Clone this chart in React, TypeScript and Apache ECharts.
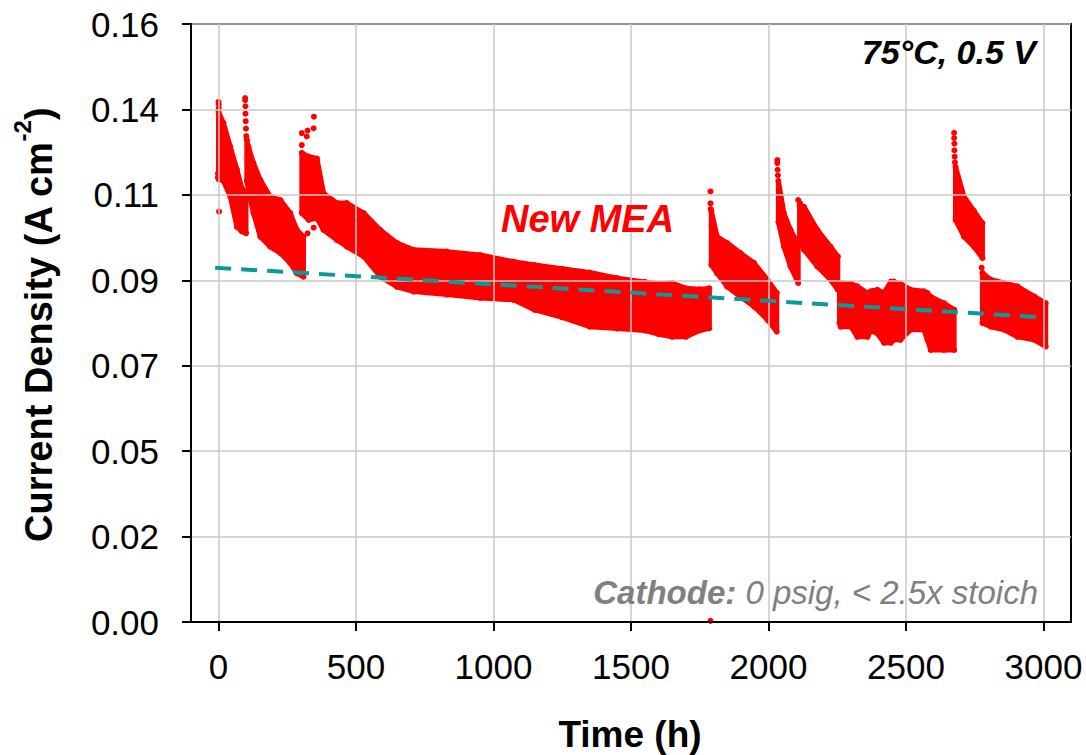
import { useEffect, useRef } from "react";
import * as echarts from "echarts";

const FONT = '"Liberation Sans", Arial, sans-serif';
const RED = "#ff0000";
const TEAL = "#0a9a9a";

// Axis ticks
const xTicks = [0, 500, 1000, 1500, 2000, 2500, 3000];
const yMax = 0.16;
const ySteps = 7;

// Dense data, read as [time (h), upper edge, lower edge] for each continuous run
const run1 = [
  [0, 0.1365, 0.1185], [18, 0.1335, 0.118], [43, 0.1271, 0.1138], [67, 0.121, 0.1057],
  [85, 0.116, 0.1045], [100, 0.115, 0.104],
];
const run2 = [
  [103, 0.129, 0.118], [109, 0.1271, 0.1156], [127, 0.1228, 0.1094], [152, 0.1183, 0.1031],
  [188, 0.1138, 0.1004], [225, 0.1129, 0.0987], [261, 0.1094, 0.096], [285, 0.1049, 0.0933],
  [309, 0.1031, 0.0924],
];
const run3 = [
  [303, 0.1255, 0.1094], [328, 0.1245, 0.1076], [358, 0.124, 0.108], [382, 0.1147, 0.1049],
  [431, 0.1121, 0.1022], [467, 0.1121, 0.1004], [528, 0.1094, 0.0978], [588, 0.1049, 0.0924],
  [649, 0.1014, 0.0897], [710, 0.0996, 0.0884], [831, 0.0991, 0.0876], [952, 0.0982, 0.0867],
  [1073, 0.0964, 0.0862], [1150, 0.0955, 0.0835], [1250, 0.0945, 0.0815], [1350, 0.0935, 0.079],
  [1450, 0.092, 0.0785], [1550, 0.091, 0.078], [1600, 0.0905, 0.077], [1650, 0.0907, 0.0763],
  [1700, 0.0893, 0.0763], [1750, 0.089, 0.078], [1785, 0.0893, 0.0786],
];
const run4 = [
  [1792, 0.11, 0.0955], [1813, 0.1031, 0.0933], [1850, 0.1014, 0.0897], [1898, 0.0987, 0.087],
  [1947, 0.0961, 0.0844], [1996, 0.0916, 0.0809], [2030, 0.0881, 0.0777],
];
const run5 = [
  [2036, 0.118, 0.107], [2056, 0.1094, 0.1004], [2080, 0.1049, 0.0951], [2108, 0.101, 0.0907],
];
const run6 = [
  [2113, 0.1115, 0.102], [2129, 0.1111, 0.0996], [2178, 0.1049, 0.0951], [2226, 0.1004, 0.0915],
  [2252, 0.0978, 0.0889],
];
const run7 = [
  [2258, 0.09, 0.08], [2262, 0.0907, 0.079], [2300, 0.0905, 0.079], [2323, 0.0898, 0.0763],
  [2360, 0.088, 0.0763], [2372, 0.0885, 0.078], [2396, 0.0889, 0.0772], [2420, 0.088, 0.0747],
  [2445, 0.0911, 0.0747], [2456, 0.0911, 0.0755], [2480, 0.0905, 0.0755], [2517, 0.0889, 0.0782],
  [2565, 0.0885, 0.0782], [2578, 0.088, 0.0755], [2590, 0.087, 0.0728], [2638, 0.0853, 0.0728],
  [2675, 0.0836, 0.0728],
];
const run8 = [
  [2680, 0.1218, 0.1076], [2711, 0.1138, 0.1031], [2747, 0.11, 0.1004], [2778, 0.1067, 0.0974],
];
const run9 = [
  [2778, 0.0934, 0.08], [2808, 0.0916, 0.079], [2857, 0.0907, 0.0782], [2905, 0.0898, 0.0763],
  [2966, 0.0871, 0.0755], [3008, 0.0853, 0.0737],
];
const runs = [run1, run2, run3, run4, run5, run6, run7, run8, run9];

// Isolated points (start-up spikes, outliers)
const isolatedPoints = [
  [0, 0.1392], [1, 0.1385], [1, 0.1375], [2, 0.1098], [-2, 0.119], [-2, 0.12],
  [97, 0.1402], [97, 0.1396], [98, 0.138], [98, 0.136], [99, 0.134], [100, 0.132], [101, 0.13],
  [303, 0.1308], [303, 0.1276], [321, 0.1299], [324, 0.1315], [346, 0.1321], [347, 0.1352],
  [324, 0.104], [346, 0.1055],
  [1789, 0.1152], [1789, 0.112], [1790, 0.1105], [1789, 0.0003],
  [2032, 0.1236], [2032, 0.1228], [2033, 0.121], [2034, 0.1195],
  [2108, 0.1129], [2115, 0.112],
  [2675, 0.1309], [2675, 0.1295], [2676, 0.128], [2676, 0.1262], [2677, 0.1245], [2678, 0.123],
  [2775, 0.0948],
];

// Linear trend (dashed)
const trendTime = [-12, 3000];
const trendValue = [0.0948, 0.0815];

export default function App() {
  const ref = useRef<HTMLDivElement>(null);
  useEffect(() => {
    if (!ref.current) return;
    const chart = echarts.init(ref.current, null, { renderer: "svg" });
    const edgePoints: number[][] = [];
    runs.forEach((r) => r.forEach((p) => { edgePoints.push([p[0], p[1]]); edgePoints.push([p[0], p[2]]); }));
    const option: any = {
      animation: false,
      backgroundColor: "#fff",
      grid: { left: 191, right: 15, top: 24, bottom: 133, show: true, borderColor: "#000", borderWidth: 2, backgroundColor: "transparent" },
      xAxis: {
        type: "value", min: -100, max: 3100, z: 3,
        axisLine: { onZero: false, lineStyle: { color: "#000", width: 2 } },
        axisTick: { show: true, customValues: xTicks, length: 9, lineStyle: { color: "#000", width: 2 } },
        axisLabel: { customValues: xTicks, fontSize: 35, color: "#000", margin: 27, fontFamily: FONT, formatter: (v: number) => String(v) },
        splitLine: { show: true, lineStyle: { color: "#c8c8c8", width: 1.5 } },
      },
      yAxis: {
        type: "value", min: 0, max: yMax, interval: yMax / ySteps, z: 3,
        axisLine: { show: true, onZero: false, lineStyle: { color: "#000", width: 2 } },
        axisTick: { show: true, length: 9, lineStyle: { color: "#000", width: 2 } },
        axisLabel: { fontSize: 35, color: "#000", margin: 32, fontFamily: FONT, formatter: (v: number) => v.toFixed(2) },
        splitLine: { show: true, lineStyle: { color: "#c8c8c8", width: 1.5 } },
      },
      series: [
        {
          type: "custom", z: 2,
          data: runs.map((r, i) => [r[0][0], r[0][1], i]),
          renderItem: (params: any, api: any) => {
            const run = runs[params.dataIndex];
            const top = run.map((p) => api.coord([p[0], p[1]]));
            const bottom = run.slice().reverse().map((p) => api.coord([p[0], p[2]]));
            return {
              type: "polygon",
              shape: { points: top.concat(bottom) },
              style: { fill: RED, stroke: RED, lineWidth: 5, lineJoin: "round" },
            };
          },
        },
        {
          type: "scatter", z: 2, symbol: "circle", symbolSize: 6,
          itemStyle: { color: RED, opacity: 1 }, data: edgePoints,
        },
        {
          type: "scatter", z: 2, symbol: "circle", symbolSize: 6,
          itemStyle: { color: RED, opacity: 1 }, data: isolatedPoints,
        },
        {
          type: "line", z: 5, symbol: "none",
          data: trendTime.map((t, i) => [t, trendValue[i]]),
          lineStyle: { color: TEAL, width: 4, type: [16, 10] },
        },
      ],
      graphic: [
        {
          type: "text", x: 501, y: 219, z: 10,
          style: { text: "New MEA", fontSize: 38, fontWeight: "bold", fontStyle: "italic", fontFamily: FONT, fill: RED, align: "left", verticalAlign: "middle" },
        },
        {
          type: "text", x: 1036, y: 52, z: 10,
          style: { text: "75°C, 0.5 V", fontSize: 34, fontWeight: "bold", fontStyle: "italic", fontFamily: FONT, fill: "#000", align: "right", verticalAlign: "middle" },
        },
        {
          type: "text", x: 1038, y: 592, z: 10,
          style: {
            text: "{b|Cathode:}{n| 0 psig, < 2.5x stoich}",
            align: "right", verticalAlign: "middle",
            rich: {
              b: { fontSize: 33, fontWeight: "bold", fontStyle: "italic", fontFamily: FONT, fill: "#808080", color: "#808080" },
              n: { fontSize: 33, fontStyle: "italic", fontFamily: FONT, fill: "#808080", color: "#808080" },
            },
          },
        },
        {
          type: "text", x: 630, y: 734, z: 10,
          style: { text: "Time (h)", fontSize: 37, fontWeight: "bold", fontFamily: FONT, fill: "#000", align: "center", verticalAlign: "middle" },
        },
        {
          type: "text", x: 39, y: 325, z: 10, rotation: Math.PI / 2,
          style: {
            text: "{m|Current Density (A cm}{s|-2}{m|)}",
            align: "center", verticalAlign: "middle",
            rich: {
              m: { fontSize: 38, fontWeight: "bold", fontFamily: FONT, lineHeight: 58, fill: "#000", color: "#000" },
              s: { fontSize: 24, fontWeight: "bold", fontFamily: FONT, lineHeight: 24, verticalAlign: "top", fill: "#000", color: "#000" },
            },
          },
        },
      ],
    };
    chart.setOption(option);
    return () => chart.dispose();
  }, []);
  return <div ref={ref} style={{ position: "fixed", left: 0, top: 0, width: 1086, height: 755 }} />;
}
